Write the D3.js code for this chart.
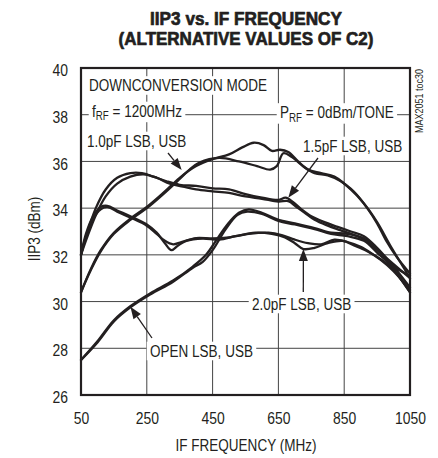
<!DOCTYPE html>
<html>
<head>
<meta charset="utf-8">
<script src="https://cdn.jsdelivr.net/npm/d3@7"></script>
<style>
  html, body { margin: 0; padding: 0; background: #fff; }
  svg { display: block; }
  text { font-family: "Liberation Sans", Arial, Helvetica, sans-serif; fill: #231f20; }
</style>
</head>
<body>
<svg id="chart" width="438" height="458"></svg>
<script>
// IIP3 (dBm) against IF frequency (MHz), one trace per sideband for each C2 value
const cap10LSB = [[50,30.4],[80,31.4],[110,32.2],[150,32.95],[200,33.55],[250,34.05],[300,34.65],[350,35.3],[400,35.8],[450,36.1],[500,36.3],[540,36.6],[575,36.8],[605,36.7],[630,36.45],[655,36.5],[680,36.4],[710,36.0],[740,35.65],[780,35.5],[820,35.35],[850,35.05],[880,34.7],[920,34.0],[950,33.35],[980,32.55],[1010,31.9],[1050,31.2]];
const cap10USB = [[50,30.4],[80,31.35],[110,32.15],[150,32.9],[200,33.5],[250,34.0],[300,34.6],[350,35.25],[380,35.65],[410,35.95],[470,36.15],[530,36.0],[585,35.8],[625,35.65],[645,35.8],[665,36.35],[690,36.2],[720,35.85],[760,35.5],[800,35.4],[840,35.15],[870,34.8],[910,34.2],[950,33.4],[990,32.4],[1020,31.7],[1050,31.0]];
const cap15LSB = [[50,32.0],[70,33.0],[95,34.0],[125,34.8],[160,35.3],[200,35.5],[235,35.5],[270,35.35],[310,35.15],[350,35.0],[400,34.95],[450,34.85],[500,34.8],[550,34.6],[600,34.45],[650,34.35],[672,34.45],[695,34.25],[720,33.95],[750,33.65],[790,33.4],[830,33.2],[870,33.0],[910,32.8],[950,32.3],[1000,31.5],[1050,30.6]];
const cap15USB = [[50,32.0],[70,32.8],[95,33.7],[125,34.5],[160,35.05],[200,35.35],[240,35.45],[280,35.3],[320,35.05],[360,34.92],[400,34.8],[450,34.72],[500,34.65],[550,34.5],[600,34.4],[650,34.28],[680,34.3],[705,34.05],[730,33.8],[760,33.5],[800,33.25],[840,33.05],[880,32.85],[920,32.6],[960,32.1],[1005,31.3],[1050,30.4]];
const cap20LSB = [[50,32.0],[65,32.9],[85,33.6],[110,34.05],[130,34.1],[160,33.9],[200,33.65],[250,33.3],[280,32.95],[305,32.5],[325,32.2],[345,32.4],[370,32.6],[420,32.7],[470,32.65],[520,32.8],[580,32.95],[630,32.9],[670,32.75],[700,32.5],[726,32.25],[760,32.3],[800,32.5],[845,32.6],[880,32.4],[920,32.15],[960,31.8],[1000,31.3],[1050,30.5]];
const cap20USB = [[50,32.0],[65,32.8],[85,33.5],[110,33.95],[130,34.05],[160,33.85],[200,33.6],[250,33.25],[280,32.9],[305,32.6],[330,32.45],[355,32.55],[400,32.72],[450,32.7],[500,32.75],[560,32.9],[620,32.95],[660,32.85],[700,32.65],[740,32.5],[780,32.45],[820,32.65],[860,32.55],[900,32.35],[940,32.0],[990,31.5],[1050,30.4]];
const openLSB = [[50,27.5],[100,28.3],[150,29.2],[200,29.8],[260,30.35],[330,30.9],[390,31.5],[430,32.0],[460,32.6],[495,33.3],[530,33.8],[560,33.95],[600,33.8],[650,33.5],[700,33.35],[760,33.15],[810,32.95],[860,32.9],[910,32.7],[950,32.2],[1000,31.6],[1050,31.0]];
const openUSB = [[50,27.5],[100,28.25],[150,29.15],[200,29.75],[260,30.3],[330,30.85],[390,31.45],[420,31.7],[450,32.2],[490,33.1],[525,33.7],[555,33.85],[600,33.75],[650,33.45],[700,33.3],[760,33.1],[810,32.9],[860,32.8],[910,32.6],[950,32.1],[1000,31.5],[1050,31.1]];

const xTicks = [50, 250, 450, 650, 850, 1050];
const yTicks = [26, 28, 30, 32, 34, 36, 38, 40];

const titleLines = ["IIP3 vs. IF FREQUENCY", "(ALTERNATIVE VALUES OF C2)"];
const xTitle = "IF FREQUENCY (MHz)";
const yTitle = "IIP3 (dBm)";
const figureId = "MAX2051 toc30";

const svg = d3.select("#chart");
const plot = { left: 81, right: 410, top: 68, bottom: 395 };
const ink = "#231f20";
const NARROW = 0.82;   // condensed face imitated by squeezing the regular one

const x = d3.scaleLinear().domain([50, 1050]).range([plot.left, plot.right]);
const y = d3.scaleLinear().domain([26, 40]).range([plot.bottom, plot.top]);

// squeeze a text horizontally about its own anchor point
function squeeze(sel, sx) {
  sel.each(function () {
    const t = d3.select(this);
    const ax = +t.attr("x") || 0, ay = +t.attr("y") || 0;
    t.attr("transform", `translate(${ax},${ay}) scale(${sx},1) translate(${-ax},${-ay})`);
  });
}

// title, heavy and condensed, fitted to a set width
const title = svg.append("g").selectAll("text").data(titleLines).join("text")
  .attr("x", 246).attr("y", (d, i) => 25 + i * 20.5)
  .attr("text-anchor", "middle")
  .style("font-size", "18.5px").style("font-weight", "bold")
  .attr("stroke", ink).attr("stroke-width", 0.7).attr("stroke-linejoin", "round")
  .text(d => d);
title.each(function (d, i) {
  const w = this.getComputedTextLength();
  squeeze(d3.select(this), (i === 0 ? 192 : 255) / w);
});

// grid
const grid = svg.append("g");
grid.selectAll("line.v").data(xTicks.slice(1, -1)).join("line")
  .attr("x1", d => x(d)).attr("x2", d => x(d))
  .attr("y1", plot.top).attr("y2", plot.bottom)
  .attr("stroke", "#444").attr("stroke-width", 1);
grid.selectAll("line.h").data(yTicks.slice(1, -1)).join("line")
  .attr("x1", plot.left).attr("x2", plot.right)
  .attr("y1", d => y(d)).attr("y2", d => y(d))
  .attr("stroke", "#444").attr("stroke-width", 1);

// tick labels through d3 axes (no tick marks, the grid carries them)
const xAxis = svg.append("g")
  .attr("transform", `translate(0,${plot.bottom})`)
  .call(d3.axisBottom(x).tickValues(xTicks).tickSize(0).tickPadding(17).tickFormat(d3.format("d")));
xAxis.select(".domain").remove();
xAxis.selectAll("text").style("font-size", "17px").attr("fill", ink)
  .style("font-family", "'Liberation Sans', Arial, sans-serif")
  .call(squeeze, NARROW);

const yAxis = svg.append("g")
  .attr("transform", `translate(${plot.left},0)`)
  .call(d3.axisLeft(y).tickValues(yTicks).tickSize(0).tickPadding(13).tickFormat(d3.format("d")));
yAxis.select(".domain").remove();
yAxis.selectAll("text").style("font-size", "17px").attr("fill", ink).attr("dy", "0.45em")
  .style("font-family", "'Liberation Sans', Arial, sans-serif")
  .call(squeeze, NARROW);

// axis titles
svg.append("text").attr("x", 246).attr("y", 451).attr("text-anchor", "middle")
  .style("font-size", "16.5px").text(xTitle).call(squeeze, NARROW);
svg.append("text").attr("transform", `translate(40,229) rotate(-90) scale(${NARROW},1)`)
  .attr("text-anchor", "middle").style("font-size", "16.5px").text(yTitle);

// traces
const traces = [cap10LSB, cap10USB, cap15LSB, cap15USB, cap20LSB, cap20USB, openLSB, openUSB];
const line = d3.line().x(d => x(d[0])).y(d => y(d[1])).curve(d3.curveCatmullRom.alpha(0.5));
svg.append("g").selectAll("path").data(traces).join("path")
  .attr("d", line)
  .attr("fill", "none").attr("stroke", ink).attr("stroke-width", 2.3)
  .attr("stroke-linejoin", "round").attr("stroke-linecap", "round");

// annotation labels, each on a white patch that cuts the grid behind it
const notes = svg.append("g");
function label(px, py, parts, size) {
  const g = notes.append("g")
    .attr("transform", `translate(${px},${py}) scale(${NARROW},1) translate(${-px},${-py})`);
  const bg = g.append("rect").attr("fill", "#fff");
  const t = g.append("text").attr("x", px).attr("y", py).style("font-size", size + "px");
  parts.forEach(p => {
    const s = t.append("tspan").text(p.t);
    if (p.sub) s.attr("baseline-shift", "-25%").style("font-size", (size * 0.72) + "px");
  });
  const b = t.node().getBBox();
  bg.attr("x", b.x - 4).attr("y", b.y).attr("width", b.width + 8).attr("height", b.height);
}
label(89, 91.5, [{ t: "DOWNCONVERSION MODE" }], 16.5);
label(92, 117, [{ t: "f" }, { t: "RF", sub: true }, { t: " = 1200MHz" }], 16.5);
label(280, 118.5, [{ t: "P" }, { t: "RF", sub: true }, { t: " = 0dBm/TONE" }], 16.5);
label(87, 147, [{ t: "1.0pF LSB, USB" }], 16.5);
label(303, 152, [{ t: "1.5pF LSB, USB" }], 16.5);
label(252, 310, [{ t: "2.0pF LSB, USB" }], 16.5);
label(150, 357, [{ t: "OPEN LSB, USB" }], 16.5);

// arrows from labels to the traces they name
const arrows = [
  { from: [168, 153], to: [356, 35.63] },
  { from: [318, 158], to: [680, 34.45] },
  { from: [303.3, 292], to: [726, 32.25] },
  { from: [152, 338], to: [200, 29.78] }
];
arrows.forEach(a => {
  const tx = x(a.to[0]), ty = y(a.to[1]);
  const [fx, fy] = a.from;
  const ang = Math.atan2(ty - fy, tx - fx);
  const len = 12, half = 4.5;
  const bx = tx - len * Math.cos(ang), by = ty - len * Math.sin(ang);
  notes.append("line").attr("x1", fx).attr("y1", fy).attr("x2", bx).attr("y2", by)
    .attr("stroke", ink).attr("stroke-width", 1.3);
  const px = -Math.sin(ang), py = Math.cos(ang);
  notes.append("path")
    .attr("d", `M${tx},${ty}L${bx + half * px},${by + half * py}L${bx - half * px},${by - half * py}Z`)
    .attr("fill", ink);
});

// frame
svg.append("rect").attr("x", plot.left).attr("y", plot.top)
  .attr("width", plot.right - plot.left).attr("height", plot.bottom - plot.top)
  .attr("fill", "none").attr("stroke", ink).attr("stroke-width", 2.2);

// figure code along the right edge
svg.append("text").attr("transform", `translate(423,101) rotate(-90) scale(${NARROW},1)`)
  .attr("text-anchor", "middle").style("font-size", "11px").text(figureId);
</script>
</body>
</html>
